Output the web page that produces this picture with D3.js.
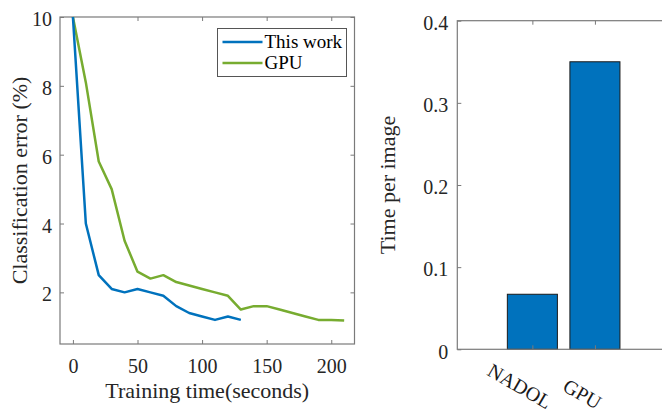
<!DOCTYPE html>
<html>
<head>
<meta charset="utf-8">
<script src="https://cdn.jsdelivr.net/npm/d3@7"></script>
<style>
    body { margin: 0; background: #fff; }
    svg { display: block; font-family: "Liberation Serif", "Times New Roman", serif; }
</style>
</head>
<body>
<div id="chart"></div>
<script>
// training curves (left panel)
const trainTime = [0, 10, 20, 30, 40, 50, 60, 70, 80, 90, 100, 110, 120, 130];
const thisWorkErr = [10, 4.0, 2.5, 2.1, 2.0, 2.1, 2.0, 1.9, 1.6, 1.4, 1.3, 1.2, 1.3, 1.2];
const gpuTime = [0, 10, 20, 30, 40, 50, 60, 70, 80, 90, 100, 110, 120, 130, 140, 150, 160, 170, 180, 190, 200, 210];
const gpuErr = [10, 8.1, 5.8, 5.0, 3.5, 2.6, 2.4, 2.5, 2.3, 2.2, 2.1, 2.0, 1.9, 1.5, 1.6, 1.6, 1.5, 1.4, 1.3, 1.2, 1.2, 1.18];
const xTicksLeft = [0, 50, 100, 150, 200];
const yTicksLeft = [2, 4, 6, 8, 10];

// time per image (right panel)
const barNames = ["NADOL", "GPU"];
const barValues = [0.067, 0.35];
const yTicksRight = [0, 0.1, 0.2, 0.3, 0.4];

const W = 662, H = 413;
const FONT = "'Liberation Serif', 'Times New Roman', serif";
const BLUE = "#0072BD", GREEN = "#77AC30";
const AXIS = "#7a7a7a";
const TICK = 4;

const svg = d3.select("#chart").append("svg")
    .attr("width", W)
    .attr("height", H);

// d3 axes put sans-serif on their group, switch it back to the serif font
function styleAxis(g, dy) {
    g.select(".domain").remove();
    g.attr("font-family", FONT).attr("font-size", 20);
    g.selectAll(".tick line").attr("stroke", AXIS);
    g.selectAll(".tick text").attr("fill", "#262626");
    if (dy) g.selectAll(".tick text").attr("dy", dy);
}

// ---------- left panel ----------
const L = { left: 60, right: 354.5, top: 17, bottom: 344 };
const x1 = d3.scaleLinear().domain([-10, 218]).range([L.left, L.right]);
const y1 = d3.scaleLinear().domain([0.5, 10]).range([L.bottom, L.top]);

const left = svg.append("g");

left.append("g")
    .attr("transform", `translate(0,${L.bottom})`)
    .call(d3.axisBottom(x1).tickValues(xTicksLeft).tickSize(-TICK).tickSizeOuter(0).tickPadding(15))
    .call(g => styleAxis(g));
left.append("g")
    .attr("transform", `translate(0,${L.top})`)
    .call(d3.axisTop(x1).tickValues(xTicksLeft).tickSize(-TICK).tickSizeOuter(0).tickFormat(""))
    .call(g => styleAxis(g));
left.append("g")
    .attr("transform", `translate(${L.left},0)`)
    .call(d3.axisLeft(y1).tickValues(yTicksLeft).tickSize(-TICK).tickSizeOuter(0).tickPadding(8))
    .call(g => styleAxis(g, "0.43em"));
left.append("g")
    .attr("transform", `translate(${L.right},0)`)
    .call(d3.axisRight(y1).tickValues(yTicksLeft).tickSize(-TICK).tickSizeOuter(0).tickFormat(""))
    .call(g => styleAxis(g));

left.append("rect")
    .attr("x", L.left).attr("y", L.top)
    .attr("width", L.right - L.left).attr("height", L.bottom - L.top)
    .attr("fill", "none").attr("stroke", AXIS).attr("stroke-width", 1.2);

const line1 = d3.line().x(d => x1(d[0])).y(d => y1(d[1]));

left.append("path")
    .datum(gpuTime.map((t, i) => [t, gpuErr[i]]))
    .attr("d", line1)
    .attr("fill", "none").attr("stroke", GREEN).attr("stroke-width", 2.5)
    .attr("stroke-linejoin", "round");
left.append("path")
    .datum(trainTime.map((t, i) => [t, thisWorkErr[i]]))
    .attr("d", line1)
    .attr("fill", "none").attr("stroke", BLUE).attr("stroke-width", 2.5)
    .attr("stroke-linejoin", "round");

left.append("text")
    .attr("x", (L.left + L.right) / 2).attr("y", 398)
    .attr("text-anchor", "middle")
    .attr("font-size", 22).attr("fill", "#262626")
    .text("Training time(seconds)");
left.append("text")
    .attr("transform", `translate(27,${(L.top + L.bottom) / 2}) rotate(-90)`)
    .attr("text-anchor", "middle")
    .attr("font-size", 22).attr("fill", "#262626")
    .text("Classification error (%)");

// legend
const legend = left.append("g").attr("transform", "translate(217.5,28.5)");
legend.append("rect")
    .attr("width", 129).attr("height", 48)
    .attr("fill", "#fff").attr("stroke", "#555").attr("stroke-width", 1);
const legendItems = [["This work", BLUE], ["GPU", GREEN]];
legendItems.forEach((item, i) => {
    const yy = 13.5 + i * 21;
    legend.append("line")
        .attr("x1", 5).attr("x2", 45).attr("y1", yy).attr("y2", yy)
        .attr("stroke", item[1]).attr("stroke-width", 2.5);
    legend.append("text")
        .attr("x", 47).attr("y", yy).attr("dy", "0.33em")
        .attr("font-size", 19).attr("fill", "#000")
        .text(item[0]);
});

// ---------- right panel ----------
const R = { left: 457.3, right: 670, top: 20.7, bottom: 349.3 };
const x2 = d3.scaleLinear().domain([-0.2, 3.2]).range([R.left, R.right]);
const y2 = d3.scaleLinear().domain([0, 0.4]).range([R.bottom, R.top]);
const barPos = barNames.map((d, i) => i + 1);
const barW = 0.8;

const right = svg.append("g");

right.selectAll("rect.bar")
    .data(barValues)
    .join("rect")
    .attr("class", "bar")
    .attr("x", (d, i) => x2(barPos[i] - barW / 2))
    .attr("width", x2(barW) - x2(0))
    .attr("y", d => y2(d))
    .attr("height", d => y2(0) - y2(d))
    .attr("fill", BLUE).attr("stroke", "#1a1a1a").attr("stroke-width", 1);

right.append("g")
    .attr("transform", `translate(0,${R.bottom})`)
    .call(d3.axisBottom(x2).tickValues(barPos).tickSize(-TICK).tickSizeOuter(0).tickFormat(""))
    .call(g => styleAxis(g));
right.append("g")
    .attr("transform", `translate(0,${R.top})`)
    .call(d3.axisTop(x2).tickValues(barPos).tickSize(-TICK).tickSizeOuter(0).tickFormat(""))
    .call(g => styleAxis(g));
right.append("g")
    .attr("transform", `translate(${R.left},0)`)
    .call(d3.axisLeft(y2).tickValues(yTicksRight).tickSize(-TICK).tickSizeOuter(0).tickPadding(9).tickFormat(d => String(d)))
    .call(g => styleAxis(g, "0.44em"));

right.append("rect")
    .attr("x", R.left).attr("y", R.top)
    .attr("width", R.right - R.left).attr("height", R.bottom - R.top)
    .attr("fill", "none").attr("stroke", AXIS).attr("stroke-width", 1.2);

// rotated category labels
right.selectAll("text.cat")
    .data(barNames)
    .join("text")
    .attr("class", "cat")
    .attr("transform", (d, i) => `translate(${x2(barPos[i]) - 12.5},${386 + i * 8}) rotate(30)`)
    .attr("text-anchor", "middle")
    .attr("dy", "0.35em")
    .attr("font-size", 20).attr("fill", "#1a1a1a")
    .text(d => d);

right.append("text")
    .attr("transform", `translate(394.5,${(R.top + R.bottom) / 2}) rotate(-90)`)
    .attr("text-anchor", "middle")
    .attr("font-size", 22).attr("fill", "#262626")
    .text("Time per image");
</script>
</body>
</html>
